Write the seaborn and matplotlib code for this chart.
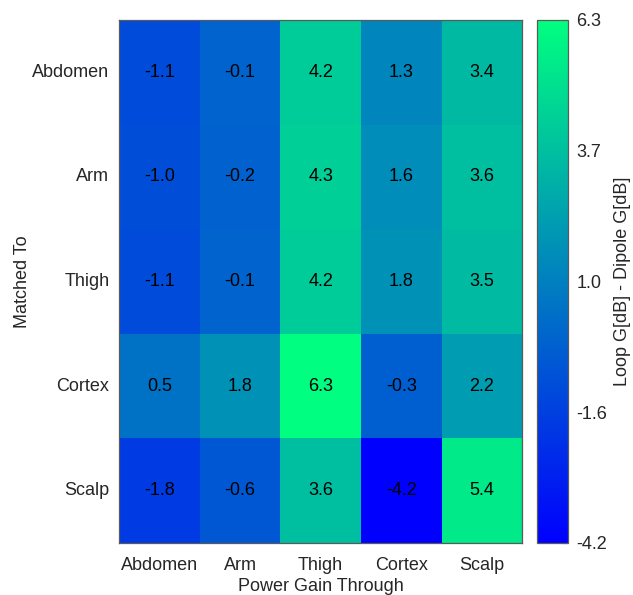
import numpy as np
import pandas as pd
import matplotlib
matplotlib.use("Agg")
import matplotlib.pyplot as plt
import seaborn as sns

# Loop gain minus dipole gain (dB): rows = matched tissue, columns = propagation tissue
matched_to = ["Abdomen", "Arm", "Thigh", "Cortex", "Scalp"]
gain_through = ["Abdomen", "Arm", "Thigh", "Cortex", "Scalp"]
row_abdomen = [-1.1, -0.1, 4.2, 1.3, 3.4]
row_arm = [-1.0, -0.2, 4.3, 1.6, 3.6]
row_thigh = [-1.1, -0.1, 4.2, 1.8, 3.5]
row_cortex = [0.5, 1.8, 6.3, -0.3, 2.2]
row_scalp = [-1.8, -0.6, 3.6, -4.2, 5.4]
cbar_ticklabels = ["-4.2", "-1.6", "1.0", "3.7", "6.3"]

df = pd.DataFrame([row_abdomen, row_arm, row_thigh, row_cortex, row_scalp],
                  index=matched_to, columns=gain_through)
vmin, vmax = df.values.min(), df.values.max()

sns.set_theme(style="white")
plt.rcParams["font.family"] = ["Liberation Sans", "DejaVu Sans"]

fig = plt.figure(figsize=(6.33, 5.95), dpi=100)
ax = fig.add_axes([0.188, 0.0874, 0.637, 0.879])
cax = fig.add_axes([0.848, 0.0874, 0.049, 0.879])

sns.heatmap(df, ax=ax, cbar_ax=cax, cmap="winter", vmin=vmin, vmax=vmax,
            annot=True, fmt=".1f",
            annot_kws={"color": "black", "fontsize": 13})

edge = "#5a5a5a"
for s in ax.spines.values():
    s.set_visible(True)
    s.set_color(edge)
    s.set_linewidth(0.9)

ax.tick_params(axis="x", length=0, labelsize=13, labelcolor="#262626", pad=10)
ax.tick_params(axis="y", length=0, labelsize=13, labelcolor="#262626", pad=7)
ax.set_yticklabels(matched_to, rotation=0)
ax.set_xticklabels(gain_through, rotation=0)
ax.set_xlabel("Power Gain Through", fontsize=13, color="#262626", labelpad=3)
ax.set_ylabel("Matched To", fontsize=13, color="#262626", labelpad=1)

cbar = ax.collections[0].colorbar
cbar.set_ticks(np.linspace(vmin, vmax, 5))
cbar.set_ticklabels(cbar_ticklabels)
cbar.outline.set_edgecolor(edge)
cbar.outline.set_linewidth(0.9)
cax.tick_params(axis="y", direction="in", length=5, width=0.8, color=edge,
                labelsize=13, labelcolor="#262626", pad=6)
cbar.set_label("Loop G[dB] - Dipole G[dB]", fontsize=13, color="#262626", labelpad=5)

fig.savefig("out.png", dpi=100)
